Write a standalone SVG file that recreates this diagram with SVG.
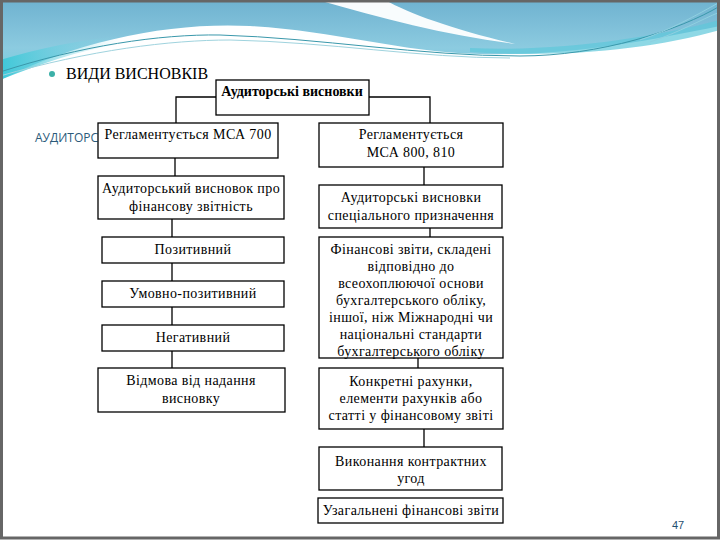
<svg xmlns="http://www.w3.org/2000/svg" width="720" height="540" viewBox="0 0 720 540">
<defs>
<linearGradient id="sky" x1="0" y1="0" x2="0" y2="1">
<stop offset="0" stop-color="#6fb2d0"/>
<stop offset="0.6" stop-color="#8ccbe0"/>
<stop offset="1" stop-color="#6fd0de"/>
</linearGradient>
<linearGradient id="cyan" x1="0" y1="0" x2="1" y2="0">
<stop offset="0" stop-color="#3ec8d8"/>
<stop offset="1" stop-color="#8fd6e6" stop-opacity="0"/>
</linearGradient>
<style>
.box{fill:#ffffff;stroke:#000000;stroke-width:1.3}
.t{font-size:14px;letter-spacing:0.4px;fill:#000000;text-anchor:middle}
.b{font-weight:bold;letter-spacing:0}
.c{stroke:#000000;stroke-width:1.3;fill:none}
</style>
</defs>
<rect x="0" y="0" width="720" height="540" fill="#ffffff"/>
<g id="header">
<path d="M0,0 H720 V26 C640,42 570,56 480,54 C400,52 330,30 250,26 C170,22 80,40 0,80 Z" fill="url(#sky)"/>
<path d="M0,60 C40,48 80,40 120,36 L120,44 C80,50 40,64 0,80 Z" fill="url(#cyan)"/>
<path d="M318,0 C380,18 450,36 515,44 C455,30 410,14 385,0 Z" fill="#ffffff" opacity="0.95"/>
<path d="M470,48 C560,52 650,38 720,20 V30 C650,50 560,58 470,52 Z" fill="#5ec8da" opacity="0.7"/>
<path d="M0,72 C80,46 160,34 220,35 C320,38 420,56 520,56 C600,56 680,30 720,6" fill="none" stroke="#3a98ab" stroke-width="1"/>
<path d="M0,76 C90,50 170,40 230,40 C330,42 420,58 510,58" fill="none" stroke="#9fd3de" stroke-width="1"/>
<path d="M640,40 C670,30 695,16 720,2 M650,42 C680,32 700,20 720,12" fill="none" stroke="#8fd0e0" stroke-width="1"/>
<rect x="0" y="0" width="720" height="2" fill="#2f6f80"/>
</g>
<rect x="1.5" y="1" width="717" height="537" fill="none" stroke="#666666" stroke-width="3"/>
<g id="title">
<circle cx="52" cy="74" r="3" fill="#3cb0a8"/>
<text x="66" y="79" font-family="Liberation Serif, DejaVu Serif, serif" font-size="16" fill="#000000">ВИДИ ВИСНОВКІВ</text>
<text x="35" y="142" font-family="Open Sans, Liberation Sans, sans-serif" font-size="12" fill="#2b5a7a">АУДИТОРС</text>
</g>
<g id="connectors">
<path class="c" d="M176,123 V97 H430 V123"/>
<path class="c" d="M175,158 V176"/>
<path class="c" d="M172,219 V237 M172,263 V281 M172,307 V325 M172,351 V368"/>
<path class="c" d="M424,167 V185 M430,228 V237 M418,358 V368 M424,429 V447"/>
</g>
<g font-family="Liberation Serif, DejaVu Serif, serif">
<g id="n-root"><rect class="box" x="216" y="80" width="153" height="35"/><text class="t b" x="292" y="96">Аудиторські висновки</text></g>
<g id="n-msa700"><rect class="box" x="98" y="123" width="180" height="35"/><text class="t" x="188" y="139">Регламентується МСА 700</text></g>
<g id="n-msa800"><rect class="box" x="319" y="123" width="184" height="44"/><text class="t" x="411" y="139">Регламентується</text><text class="t" x="411" y="157">МСА 800, 810</text></g>
<g id="n-fin"><rect class="box" x="98" y="176" width="186" height="43"/><text class="t" x="191" y="193">Аудиторський висновок про</text><text class="t" x="191" y="211">фінансову звітність</text></g>
<g id="n-spec"><rect class="box" x="319" y="185" width="183" height="43"/><text class="t" x="411" y="202">Аудиторські висновки</text><text class="t" x="411" y="220">спеціального призначення</text></g>
<g id="n-pos"><rect class="box" x="102" y="237" width="182" height="26"/><text class="t" x="193" y="254">Позитивний</text></g>
<g id="n-cond"><rect class="box" x="102" y="281" width="182" height="26"/><text class="t" x="193" y="298">Умовно-позитивний</text></g>
<g id="n-neg"><rect class="box" x="102" y="325" width="182" height="26"/><text class="t" x="193" y="342">Негативний</text></g>
<g id="n-refuse"><rect class="box" x="98" y="368" width="187" height="44"/><text class="t" x="191" y="385">Відмова від надання</text><text class="t" x="191" y="403">висновку</text></g>
<g id="n-fs"><rect class="box" x="319" y="237" width="184" height="121"/>
<text class="t" x="411" y="254">Фінансові звіти, складені</text>
<text class="t" x="411" y="271">відповідно до</text>
<text class="t" x="411" y="288">всеохоплюючої основи</text>
<text class="t" x="411" y="305">бухгалтерського обліку,</text>
<text class="t" x="411" y="322">іншої, ніж Міжнародні чи</text>
<text class="t" x="411" y="339">національні стандарти</text>
<text class="t" x="411" y="356">бухгалтерського обліку</text></g>
<g id="n-acc"><rect class="box" x="319" y="368" width="184" height="61"/><text class="t" x="411" y="386">Конкретні рахунки,</text><text class="t" x="411" y="403">елементи рахунків або</text><text class="t" x="411" y="420">статті у фінансовому звіті</text></g>
<g id="n-contract"><rect class="box" x="319" y="447" width="183" height="43"/><text class="t" x="411" y="466">Виконання контрактних</text><text class="t" x="411" y="483">угод</text></g>
<g id="n-summary"><rect class="box" x="318" y="498" width="185" height="25"/><text class="t" x="411" y="515">Узагальнені фінансові звіти</text></g>
</g>
<text x="678" y="529" font-family="Liberation Sans, Arial, sans-serif" font-size="11" fill="#1f4f6f" text-anchor="middle">47</text>
</svg>
